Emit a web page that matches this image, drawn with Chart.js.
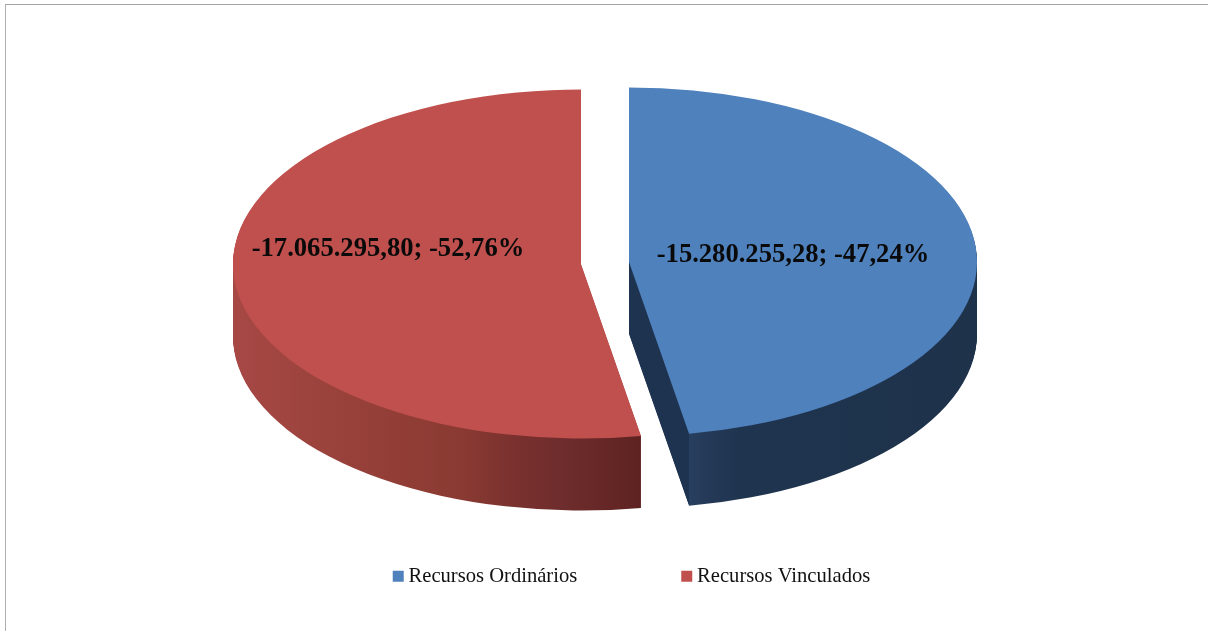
<!DOCTYPE html>
<html lang="pt">
<head>
<meta charset="utf-8">
<title>Recursos</title>
<script src="https://cdn.jsdelivr.net/npm/chart.js@4"></script>
<style>
html,body{margin:0;padding:0;background:#fff;overflow:hidden}
#wrap{position:relative;width:1208px;height:631px}
#frame{position:absolute;left:5px;top:4px;right:0;bottom:0;border-top:1.5px solid #a3a3a3;border-left:1.5px solid #b0b0b0;box-sizing:border-box}
canvas{position:absolute;left:0;top:0}
</style>
</head>
<body>
<div id="wrap"><div id="frame"></div><canvas id="c" width="1208" height="631"></canvas></div>
<script>
const categories = ["Recursos Ordinários", "Recursos Vinculados"];
const values = [-15280255.28, -17065295.80];
const dataLabels = ["-15.280.255,28; -47,24%", "-17.065.295,80; -52,76%"];
const topColors = ["#4f81bd", "#c0504d"];
const labelShift = [[164, -8], [-193, -14]];

const PIE = {cx: 605, cy: 263, rx: 348, ry: 174.5, depth: 72, explode: 24.1};

const wallStops = [
  [[629,"#1e3350"],[688.9,"#1e3350"],[689,"#28405f"],[705,"#243a58"],[740,"#1f344f"],[977,"#1e324a"]],
  [[233,"#a74845"],[330,"#9a423c"],[460,"#8a3a32"],[520,"#78302e"],[560,"#6f2d2d"],[640,"#5e2321"]]
];

const pie3d = {
  id: "pie3d",
  beforeDatasetDraw() { return false; },
  afterDatasetsDraw(chart) {
    const ctx = chart.ctx, arcs = chart.getDatasetMeta(0).data;
    const R = arcs[0].outerRadius, ax = arcs[0].x, ay = arcs[0].y;
    const sx = PIE.rx / R, sy = PIE.ry / R;
    const centres = [];
    arcs.forEach((arc, i) => {
      const mid = (arc.startAngle + arc.endAngle) / 2;
      const Cx = PIE.cx + Math.cos(mid) * PIE.explode;
      const Cy = PIE.cy + Math.sin(mid) * PIE.explode * PIE.ry / PIE.rx;
      centres.push(Cx);
      const xform = d => {
        ctx.translate(Cx, Cy + d);
        ctx.scale(sx, sy);
        ctx.translate(-ax, -ay);
      };
      const toU = X => ax + (X - Cx) / sx;
      const st = wallStops[i];
      const g = ctx.createLinearGradient(toU(st[0][0]), 0, toU(st[st.length - 1][0]), 0);
      const span = st[st.length - 1][0] - st[0][0];
      st.forEach(s => g.addColorStop((s[0] - st[0][0]) / span, s[1]));
      const original = arc.options;
      const wall = Object.create(original);
      wall.backgroundColor = g;
      arc.options = wall;
      for (let d = PIE.depth; d >= 1; d--) {
        ctx.save();
        xform(d);
        arc.draw(ctx);
        ctx.restore();
      }
      arc.options = original;
      ctx.save();
      xform(0);
      arc.draw(ctx);
      ctx.restore();
    });
    ctx.save();
    ctx.font = "bold 26.6px 'Liberation Serif'";
    ctx.fillStyle = "#0a0a0a";
    ctx.textAlign = "center";
    ctx.textBaseline = "middle";
    dataLabels.forEach((t, i) => {
      ctx.fillText(t, centres[i] + labelShift[i][0], PIE.cy + labelShift[i][1]);
    });
    ctx.restore();
  }
};

new Chart(document.getElementById("c"), {
  type: "pie",
  data: {
    labels: categories,
    datasets: [{
      data: values,
      backgroundColor: topColors,
      borderWidth: 0,
      hoverOffset: 0,
      clip: false
    }]
  },
  options: {
    responsive: false,
    animation: false,
    rotation: 0,
    layout: {padding: {left: 60.5, bottom: 34.4, top: 0, right: 0}},
    events: [],
    plugins: {
      tooltip: {enabled: false},
      title: {display: false},
      legend: {
        display: true,
        position: "bottom",
        labels: {
          usePointStyle: true,
          pointStyle: "rect",
          boxWidth: 0.01,
          boxHeight: 11,
          padding: 109.5,
          color: "#111",
          font: {family: "'Liberation Serif'", size: 20.6}
        }
      }
    }
  },
  plugins: [pie3d]
});
</script>
</body>
</html>
